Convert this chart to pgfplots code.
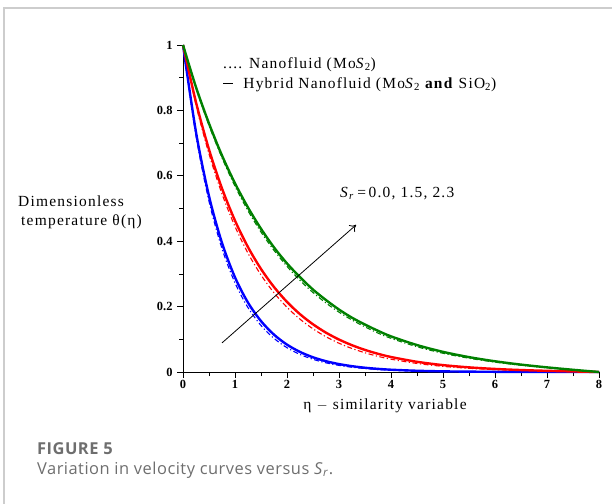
\documentclass[border=0pt]{standalone}
\usepackage{pgfplots}
\pgfplotsset{compat=1.18}
\usepackage{pgfplotstable}
\usetikzlibrary{arrows.meta}
\usepackage{fontspec}
\setmainfont{Liberation Serif}
\newfontfamily\lsfont[LetterSpace=8]{Liberation Serif}
\newfontfamily\capfont[LetterSpace=3]{Open Sans}
\definecolor{mgreen}{RGB}{0,128,0}
\definecolor{framegray}{RGB}{205,205,205}
\definecolor{capgray}{RGB}{110,110,110}

% temperature profiles theta(eta); H = hybrid nanofluid, N = nanofluid
\pgfplotstableread{
eta   blueH   blueN   redH    redN    greenH  greenN
0     1.000   1.000   1.000   1.000   1.000   1.000
0.25  0.7334  0.7225  0.8249  0.8167  0.871   0.868
0.5   0.5379  0.5220  0.6805  0.6670  0.760   0.754
0.75  0.3946  0.3772  0.5613  0.5447  0.662   0.655
1.0   0.2894  0.2725  0.4630  0.4449  0.577   0.568
1.25  0.2122  0.1969  0.3819  0.3633  0.503   0.493
1.5   0.1557  0.1423  0.3151  0.2967  0.438   0.428
1.75  0.1142  0.1028  0.2599  0.2423  0.381   0.372
2.0   0.0837  0.0743  0.2144  0.1979  0.332   0.323
2.25  0.0614  0.0537  0.1768  0.1616  0.290   0.280
2.5   0.0450  0.0388  0.1459  0.1320  0.252   0.243
2.75  0.0330  0.0280  0.1203  0.1078  0.220   0.211
3.0   0.0242  0.0202  0.0993  0.0880  0.191   0.183
3.25  0.0178  0.0146  0.0819  0.0719  0.166   0.159
3.5   0.0130  0.0106  0.0675  0.0587  0.145   0.138
3.75  0.0096  0.0076  0.0557  0.0479  0.126   0.119
4.0   0.0070  0.0055  0.0459  0.0392  0.109   0.103
4.5   0.0038  0.0029  0.0312  0.0261  0.0824  0.0772
5.0   0.0020  0.0015  0.0211  0.0172  0.0616  0.0573
5.5   0.0011  0.0008  0.0142  0.0114  0.0455  0.0421
6.0   0.0006  0.0004  0.0094  0.0074  0.0328  0.0302
6.5   0.0003  0.0002  0.0060  0.0047  0.0226  0.0207
7.0   0.0002  0.0001  0.0036  0.0028  0.0142  0.0130
7.5   0.0001  0.0000  0.0017  0.0013  0.0068  0.0062
8.0   0.0000  0.0000  0.0000  0.0000  0.0000  0.0000
}\profiles

\begin{document}
\begin{tikzpicture}
\useasboundingbox (0bp,0bp) rectangle (612bp,-504bp);
% card frame
\draw[framegray, line width=1.6bp] (4bp,-504bp) -- (4bp,-8bp) -- (612bp,-8bp);

\begin{axis}[
  at={(183bp,-372bp)}, anchor=south west,
  scale only axis, width=416bp, height=327bp,
  xmin=0, xmax=8, ymin=0, ymax=1,
  axis lines=left, axis line style={-, line width=0.9bp},
  clip=false,
  xtick={0,1,...,8}, ytick={0,0.2,0.4,0.6,0.8,1},
  minor x tick num=1, minor y tick num=1,
  tick align=outside,
  major tick length=6bp, minor tick length=4bp,
  tick style={black, line width=0.8bp},
  yticklabel style={/pgf/number format/fixed, xshift=-1bp},
  /pgf/number format/assume math mode=true,
  ticklabel style={font=\bfseries\fontsize{12.5}{13}\selectfont},
  xticklabel style={yshift=1bp},
]
\addplot[blue, line width=1.1bp, dash pattern=on 5bp off 2.5bp on 1.2bp off 2.5bp, smooth] table[x=eta,y=blueN]{\profiles};
\addplot[red, line width=1.1bp, dash pattern=on 5bp off 2.5bp on 1.2bp off 2.5bp, smooth] table[x=eta,y=redN]{\profiles};
\addplot[mgreen, line width=1.1bp, dash pattern=on 5bp off 2.5bp on 1.2bp off 2.5bp, smooth] table[x=eta,y=greenN]{\profiles};
\addplot[blue, line width=2.4bp, smooth] table[x=eta,y=blueH]{\profiles};
\addplot[red, line width=2.4bp, smooth] table[x=eta,y=redH]{\profiles};
\addplot[mgreen, line width=2.4bp, smooth] table[x=eta,y=greenH]{\profiles};
\draw[-{To[length=6bp,width=9bp]}, line width=0.8bp] (axis cs:0.75,0.089) -- (axis cs:3.33,0.45);
\end{axis}

% annotations
\begin{scope}[every node/.style={inner sep=0pt, font=\lsfont\fontsize{15.5}{17}\selectfont}]
\node[anchor=base west] at (223bp,-68bp) {.... Nanofluid (Mo\textit{S}\textsubscript{2})};
\node[anchor=base west] at (223bp,-88bp) {\rule[0.26em]{10bp}{1.4bp}\ \ Hybrid Nanofluid (Mo\textit{S}\textsubscript{2} \textbf{and} SiO\textsubscript{2})};
\node[anchor=base west] at (340bp,-197bp) {\textit{S}\textsubscript{\textit{r}}\,=\,0.0, 1.5, 2.3};
\node[anchor=base west] at (18bp,-206bp) {Dimensionless};
\node[anchor=base west] at (21bp,-225bp) {temperature θ(η)};
\node[anchor=base] at (385bp,-409bp) {η $-$ similarity variable};
\end{scope}

% caption
\node[anchor=base west, inner sep=0pt, text=capgray, font=\capfont\bfseries\fontsize{16.5}{19}\selectfont] at (37bp,-454bp) {FIGURE 5};
\node[anchor=base west, inner sep=0pt, text=capgray, font=\capfont\fontsize{16.5}{19}\selectfont] at (37bp,-474bp) {Variation in velocity curves versus \textit{S}\textsubscript{\textit{r}}.};
\end{tikzpicture}
\end{document}
